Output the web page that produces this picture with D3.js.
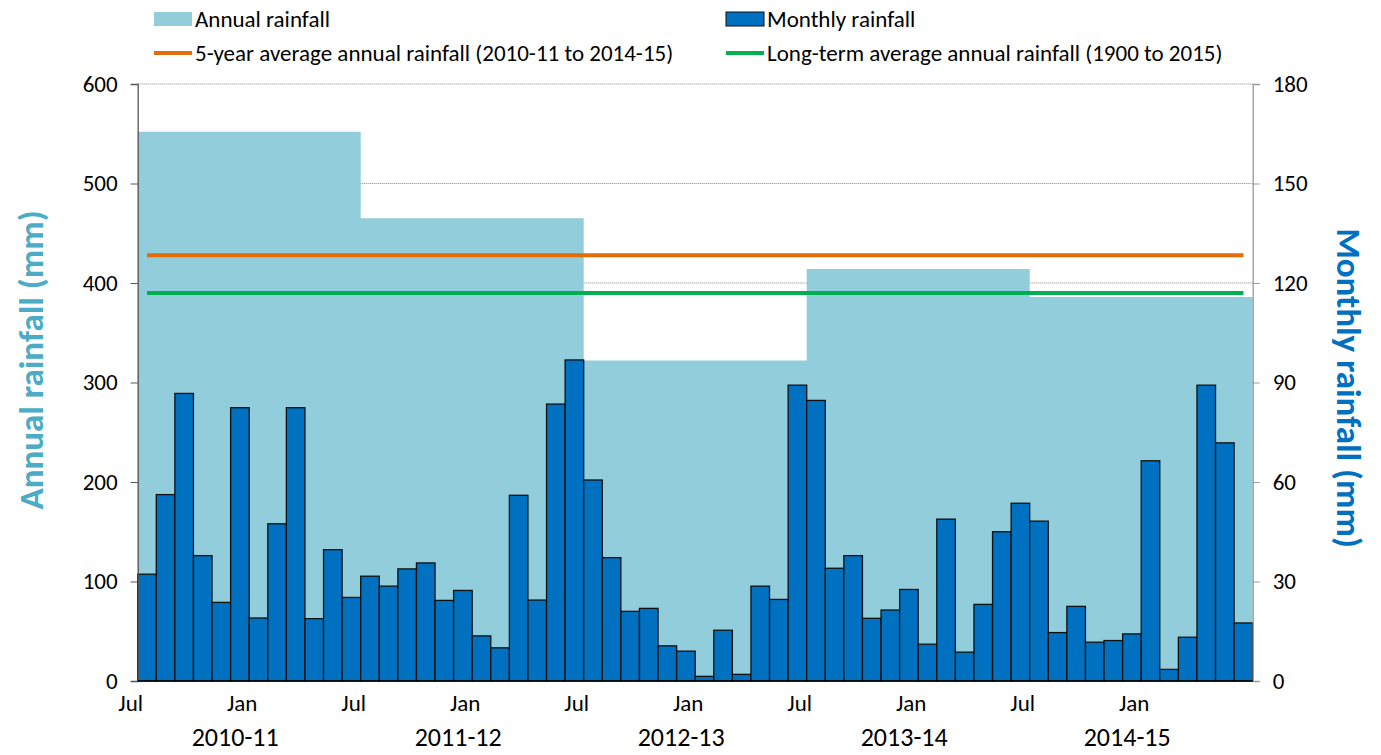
<!DOCTYPE html>
<html>
<head>
<meta charset="utf-8">
<script src="https://cdn.jsdelivr.net/npm/d3@7"></script>
<style>
  body { margin: 0; background: #fff; }
  text { font-family: Carlito, Calibri, "Liberation Sans Narrow", "DejaVu Sans Condensed", sans-serif; }
</style>
</head>
<body>
<svg id="chart" width="1381" height="755"></svg>
<script>
// monthly rainfall (mm), Jul 2010 .. Jun 2015
var monthly = [
  32.2, 56.2, 86.7, 37.8, 23.7, 82.4, 19.0, 47.4, 82.4, 18.8, 39.6, 25.2,
  31.6, 28.6, 33.8, 35.6, 24.3, 27.3, 13.6, 10.0, 56.0, 24.4, 83.5, 96.8,
  60.6, 37.2, 21.0, 21.9, 10.6, 9.0, 1.4, 15.3, 2.0, 28.6, 24.6, 89.2,
  84.6, 34.0, 37.8, 18.9, 21.4, 27.6, 11.1, 48.8, 8.7, 23.1, 45.0, 53.6,
  48.2, 14.6, 22.5, 11.7, 12.2, 14.2, 66.4, 3.5, 13.2, 89.2, 71.8, 17.5
];
var years = ["2010-11", "2011-12", "2012-13", "2013-14", "2014-15"];
var annual = [552, 465, 322, 414, 386];
var fiveYearAvg = 428;
var longTermAvg = 390;
var monthTickLabels = ["Jul", "Jan"];
var leftTicks = [0, 100, 200, 300, 400, 500, 600];
var rightTicks = [0, 30, 60, 90, 120, 150, 180];

var cfg = {
  left: 137.7, right: 1252.7, top: 84, bottom: 681,
  annualColor: "#92cddc", barColor: "#0070c0",
  orange: "#e36c0a", green: "#00b050"
};

var svg = d3.select("#chart");

var x = d3.scaleBand()
  .domain(d3.range(monthly.length))
  .range([cfg.left, cfg.right])
  .padding(0);
var bw = x.bandwidth();
var yL = d3.scaleLinear().domain([0, 600]).range([cfg.bottom, cfg.top]);
var yR = d3.scaleLinear().domain([0, 180]).range([cfg.bottom, cfg.top]);

// gridlines (behind everything)
svg.append("g").selectAll("line").data(leftTicks.slice(1)).enter().append("line")
  .attr("x1", cfg.left).attr("x2", cfg.right)
  .attr("y1", function(d){ return yL(d); }).attr("y2", function(d){ return yL(d); })
  .attr("stroke", "#888").attr("stroke-width", 1).attr("stroke-dasharray", "1,1");

// annual rainfall as one stepped area (no seams between years)
var steps = annual.map(function(v, i){ return { m: i * 12, v: v }; });
steps.push({ m: monthly.length, v: annual[annual.length - 1] });
var stepX = function(m){ return cfg.left + m * bw; };
svg.append("path")
  .datum(steps)
  .attr("fill", cfg.annualColor)
  .attr("d", d3.area()
    .curve(d3.curveStepAfter)
    .x(function(d){ return stepX(d.m); })
    .y0(cfg.bottom)
    .y1(function(d){ return yL(d.v); }));

// average lines
function avgLine(v, color){
  svg.append("line")
    .attr("x1", x(0) + bw / 2).attr("x2", x(monthly.length - 1) + bw / 2)
    .attr("y1", yL(v)).attr("y2", yL(v))
    .attr("stroke", color).attr("stroke-width", 4);
}
avgLine(fiveYearAvg, cfg.orange);
avgLine(longTermAvg, cfg.green);

// monthly bars
svg.append("g").selectAll("rect").data(monthly).enter().append("rect")
  .attr("x", function(d, i){ return x(i); })
  .attr("width", bw)
  .attr("y", function(d){ return yR(d); })
  .attr("height", function(d){ return cfg.bottom - yR(d); })
  .attr("fill", cfg.barColor)
  .attr("stroke", "#111").attr("stroke-width", 1.3);

// left axis
var axL = svg.append("g").attr("transform", "translate(" + cfg.left + ",0)")
  .call(d3.axisLeft(yL).tickValues(leftTicks).tickSize(7).tickPadding(13));
axL.select(".domain").attr("stroke", "#555").attr("stroke-width", 1.3);
axL.selectAll(".tick line").attr("stroke", "#555");
axL.selectAll("text").attr("font-size", "23px").attr("fill", "#000");

// right axis
var axR = svg.append("g").attr("transform", "translate(" + cfg.right + ",0)")
  .call(d3.axisRight(yR).tickValues(rightTicks).tickSize(7).tickPadding(13));
axR.select(".domain").attr("stroke", "#999").attr("stroke-width", 1.3);
axR.selectAll(".tick line").attr("stroke", "#999");
axR.selectAll("text").attr("font-size", "23px").attr("fill", "#000");

// x axis baseline
svg.append("line")
  .attr("x1", cfg.left).attr("x2", cfg.right)
  .attr("y1", cfg.bottom).attr("y2", cfg.bottom)
  .attr("stroke", "#000").attr("stroke-width", 1.3);

// month labels every six months
var tickMonths = d3.range(0, monthly.length, 6);
svg.append("g").selectAll("text").data(tickMonths).enter().append("text")
  .attr("x", function(d){ return x(d) - 7; })
  .attr("y", 711)
  .attr("text-anchor", "middle")
  .attr("font-size", "23px")
  .text(function(d, i){ return monthTickLabels[i % 2]; });

// financial year labels
svg.append("g").selectAll("text").data(years).enter().append("text")
  .attr("x", function(d, i){ return x(i * 12) + bw * 6 - 14; })
  .attr("y", 746)
  .attr("text-anchor", "middle")
  .attr("font-size", "26px")
  .text(function(d){ return d; });

// axis titles
svg.append("text")
  .attr("transform", "translate(43,360) rotate(-90)")
  .attr("text-anchor", "middle")
  .attr("font-size", "35px").attr("font-weight", "bold")
  .attr("fill", "#4bacc6")
  .text("Annual rainfall (mm)");

svg.append("text")
  .attr("transform", "translate(1337,388) rotate(90)")
  .attr("text-anchor", "middle")
  .attr("font-size", "35px").attr("font-weight", "bold")
  .attr("fill", "#0070c0")
  .text("Monthly rainfall (mm)");

// legend
var legend = [
  { label: "Annual rainfall", type: "box", fill: cfg.annualColor, x: 154, y: 19 },
  { label: "Monthly rainfall", type: "box", fill: cfg.barColor, x: 726, y: 19 },
  { label: "5-year average annual rainfall (2010-11 to 2014-15)", type: "line", fill: cfg.orange, x: 154, y: 53 },
  { label: "Long-term average annual rainfall (1900 to 2015)", type: "line", fill: cfg.green, x: 726, y: 53 }
];
var lg = svg.append("g").selectAll("g").data(legend).enter().append("g")
  .attr("transform", function(d){ return "translate(" + d.x + "," + d.y + ")"; });
lg.filter(function(d){ return d.type === "box"; }).append("rect")
  .attr("x", 0).attr("y", -7).attr("width", 38).attr("height", 14)
  .attr("fill", function(d){ return d.fill; })
  .attr("stroke", function(d){ return d.fill === cfg.barColor ? "#111" : "none"; });
lg.filter(function(d){ return d.type === "line"; }).append("line")
  .attr("x1", 0).attr("x2", 38).attr("y1", 0).attr("y2", 0)
  .attr("stroke", function(d){ return d.fill; }).attr("stroke-width", 4);
lg.append("text")
  .attr("x", 41).attr("y", 0).attr("dy", "0.35em")
  .attr("font-size", "23px")
  .text(function(d){ return d.label; });
</script>
</body>
</html>
